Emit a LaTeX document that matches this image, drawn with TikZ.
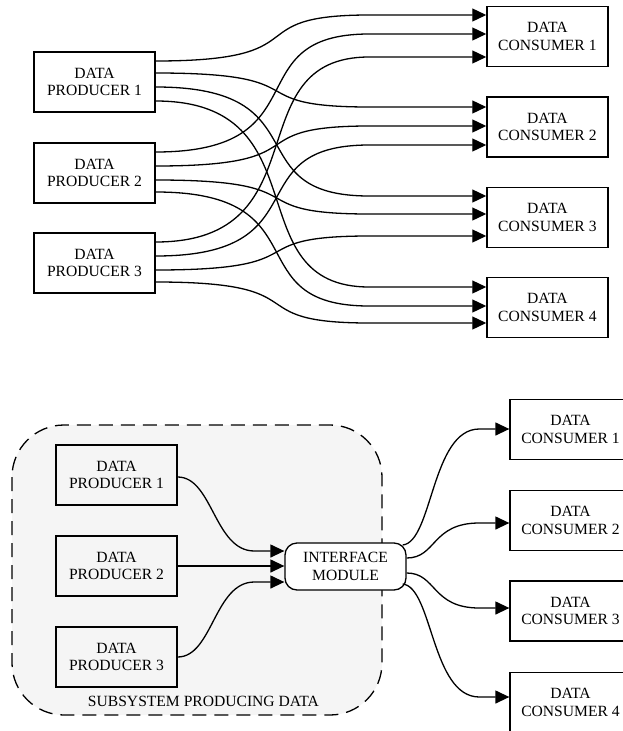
\documentclass[tikz,border=0pt]{standalone}
\usepackage{fontspec}
\setmainfont{Liberation Serif}
\usetikzlibrary{arrows.meta,calc}
\definecolor{clusterfill}{HTML}{F5F5F5}

% producer -> consumer connector: S-bend, then a straight run into the arrow
\newcommand{\topflow}[4]{%
  \draw[flow] ($(#1.east)+(0,#2)$) .. controls +(168,0) and +(-135,0) ..
    ($(#3.west)+(-117,#4)$) -- ($(#3.west)+(0,#4)$);}

\begin{document}
\begin{tikzpicture}[x=1pt,y=-1pt,
  every node/.style={font=\fontsize{15.6}{17.4}\selectfont},
  block/.style={draw, line width=1.3pt, minimum width=121pt, minimum height=60pt,
                inner sep=0pt, align=center},
  ifbox/.style={block, minimum height=47pt, rounded corners=12pt, fill=white},
  flow/.style={line width=1.3pt, -{Triangle[length=14pt,width=13pt]}},
  cluster/.style={draw, dash pattern=on 14pt off 8pt, line width=1.3pt,
                  fill=clusterfill, rounded corners=52pt}]
\useasboundingbox (0,0) rectangle (623,731);

% ---------- direct wiring: every producer talks to every consumer ----------
\node[block] (p1) at (94.5,82)  {DATA\\PRODUCER 1};
\node[block] (p2) at (94.5,173) {DATA\\PRODUCER 2};
\node[block] (p3) at (94.5,263) {DATA\\PRODUCER 3};

\node[block] (c1) at (547.4,36.5)  {DATA\\CONSUMER 1};
\node[block] (c2) at (547.4,127)   {DATA\\CONSUMER 2};
\node[block] (c3) at (547.4,217.5) {DATA\\CONSUMER 3};
\node[block] (c4) at (547.4,307.5) {DATA\\CONSUMER 4};

\topflow{p1}{-21}{c1}{-21.5}
\topflow{p1}{-9}{c2}{-20}
\topflow{p1}{5}{c3}{-21.5}
\topflow{p1}{19}{c4}{-20.5}
\topflow{p2}{-21}{c1}{-2.5}
\topflow{p2}{-7}{c2}{-1}
\topflow{p2}{7}{c3}{-3.5}
\topflow{p2}{19}{c4}{-1.5}
\topflow{p3}{-21}{c1}{20.5}
\topflow{p3}{-7}{c2}{18}
\topflow{p3}{7}{c3}{18.5}
\topflow{p3}{19}{c4}{15.5}

% ---------- wiring through a single interface module ----------
\draw[cluster] (12,425) rectangle (382,715);
\node[anchor=base] (sublabel) at (203.5,706) {SUBSYSTEM PRODUCING DATA};

\node[block] (q1) at (116.5,475) {DATA\\PRODUCER 1};
\node[block] (q2) at (116.5,566) {DATA\\PRODUCER 2};
\node[block] (q3) at (116.5,657) {DATA\\PRODUCER 3};

\node[ifbox] (im) at (345.5,566.5) {INTERFACE\\MODULE};

\node[block] (d1) at (570.5,429.5) {DATA\\CONSUMER 1};
\node[block] (d2) at (570.5,520.5) {DATA\\CONSUMER 2};
\node[block] (d3) at (570.5,611)   {DATA\\CONSUMER 3};
\node[block] (d4) at (570.5,702.5) {DATA\\CONSUMER 4};

\draw[flow] ($(q1.east)+(0,2)$) .. controls +(35,0) and +(-40,0) ..
  ($(im.west)+(-30,-15.5)$) -- ($(im.west)+(0,-15.5)$);
\draw[flow] (q2.east) -- (q2.east -| im.west);
\draw[flow] (q3.east) .. controls +(35,0) and +(-40,0) ..
  ($(im.west)+(-30,15.5)$) -- ($(im.west)+(0,15.5)$);

\draw[flow] ($(im.east)+(-4,-21.5)$) .. controls +(30,-3) and +(-48,0) ..
  ($(d1.west)+(-30,-0.5)$) -- ($(d1.west)+(0,-0.5)$);
\draw[flow] ($(im.east)+(0,-8.5)$) .. controls +(30,0) and +(-48,0) ..
  ($(d2.west)+(-30,2.5)$) -- ($(d2.west)+(0,2.5)$);
\draw[flow] ($(im.east)+(0,6.5)$) .. controls +(30,0) and +(-48,0) ..
  ($(d3.west)+(-30,-3)$) -- ($(d3.west)+(0,-3)$);
\draw[flow] ($(im.east)+(-4,17.5)$) .. controls +(30,3) and +(-48,0) ..
  ($(d4.west)+(-30,-5.5)$) -- ($(d4.west)+(0,-5.5)$);
\end{tikzpicture}
\end{document}
